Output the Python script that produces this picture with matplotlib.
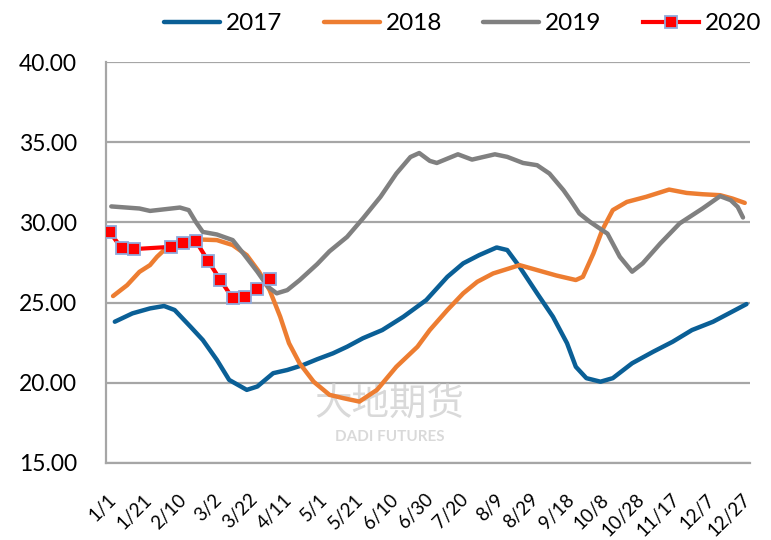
import matplotlib

matplotlib.use("Agg")
import matplotlib.pyplot as plt
import pandas as pd

plt.rcParams["font.family"] = ["Lato", "Noto Sans CJK SC", "DejaVu Sans"]

# day of year (0 = 1/1) and price for each year
DAYS_2017 = [4, 14, 24, 32, 38, 47, 54, 62, 69, 79, 85, 94, 102, 111, 119, 128, 136, 145,
             156, 168, 181, 193, 202, 211, 221, 227, 234, 244, 253, 261, 266, 272, 280,
             287, 298, 310, 321, 332, 344, 353, 363]
VALS_2017 = [23.81, 24.33, 24.64, 24.79, 24.54, 23.50, 22.67, 21.43, 20.18, 19.56, 19.77,
             20.60, 20.80, 21.11, 21.47, 21.84, 22.25, 22.78, 23.29, 24.12, 25.16, 26.61,
             27.45, 27.96, 28.44, 28.28, 27.24, 25.58, 24.12, 22.47, 21.00, 20.29, 20.07,
             20.29, 21.22, 21.94, 22.56, 23.29, 23.81, 24.33, 24.91]

DAYS_2018 = [3, 11, 18, 24, 28, 34, 43, 52, 62, 71, 79, 86, 92, 98, 103, 109, 117, 126,
             134, 143, 153, 164, 176, 183, 193, 202, 210, 219, 228, 234, 244, 255, 266,
             270, 276, 281, 287, 295, 306, 319, 329, 338, 348, 355, 362]
VALS_2018 = [25.41, 26.09, 26.92, 27.34, 27.86, 28.48, 28.85, 28.94, 28.90, 28.59, 27.96,
             26.92, 25.78, 24.12, 22.47, 21.22, 20.07, 19.25, 19.04, 18.83, 19.56, 21.00,
             22.25, 23.29, 24.54, 25.58, 26.30, 26.82, 27.13, 27.34, 27.03, 26.69, 26.41,
             26.61, 28.07, 29.52, 30.77, 31.28, 31.60, 32.05, 31.84, 31.76, 31.70, 31.49,
             31.22]

DAYS_2019 = [2, 18, 24, 41, 46, 50, 54, 62, 71, 77, 85, 91, 96, 102, 109, 119, 126, 136,
             145, 155, 164, 172, 177, 183, 187, 199, 207, 220, 227, 236, 244, 251, 259,
             263, 268, 274, 284, 291, 298, 304, 314, 325, 338, 348, 354, 358, 361]
VALS_2019 = [31.00, 30.87, 30.72, 30.93, 30.77, 30.04, 29.41, 29.25, 28.90, 28.07, 26.93,
             25.99, 25.58, 25.78, 26.40, 27.40, 28.20, 29.10, 30.25, 31.60, 33.05, 34.08,
             34.33, 33.84, 33.71, 34.25, 33.92, 34.25, 34.09, 33.71, 33.57, 33.05, 32.01,
             31.39, 30.56, 30.04, 29.30, 27.86, 26.93, 27.45, 28.69, 29.94, 30.87, 31.64,
             31.39, 30.97, 30.31]

DAYS_2020 = [1, 8, 15, 36, 43, 50, 57, 64, 71, 78, 85, 92]
VALS_2020 = [29.41, 28.38, 28.34, 28.48, 28.73, 28.85, 27.61, 26.41, 25.27, 25.37, 25.83,
             26.47]

TICK_DATES = pd.date_range("2019-01-01", periods=19, freq="20D")
TICK_DAYS = [d.dayofyear - 1 for d in TICK_DATES]
TICK_LABELS = [f"{d.month}/{d.day}" for d in TICK_DATES]
Y_TICKS = [15, 20, 25, 30, 35, 40]

GRID = "#a6a6a6"


def main() -> None:
    fig = plt.figure(figsize=(7.71, 5.40), dpi=100)
    ax = fig.add_axes([0.1375, 0.1426, 0.8353, 0.7424])

    ax.plot(DAYS_2017, VALS_2017, color="#0a5f96", linewidth=3.2, label="2017",
            solid_capstyle="round", zorder=3)
    ax.plot(DAYS_2018, VALS_2018, color="#ed7d31", linewidth=3.2, label="2018",
            solid_capstyle="round", zorder=3)
    ax.plot(DAYS_2019, VALS_2019, color="#808080", linewidth=3.2, label="2019",
            solid_capstyle="round", zorder=3)
    ax.plot(DAYS_2020, VALS_2020, color="#ff0000", linewidth=3.0, label="2020",
            marker="s", markersize=9, markerfacecolor="#ff0000",
            markeredgecolor="#8faadc", markeredgewidth=1.3, zorder=4)

    ax.set_xlim(-1, 365)
    ax.set_ylim(15, 40)
    ax.set_yticks(Y_TICKS)
    ax.set_yticklabels([f"{v:.2f}" for v in Y_TICKS], fontsize=16.5)
    ax.set_xticks(TICK_DAYS)
    ax.set_xticklabels(TICK_LABELS, fontsize=13.5, rotation=45, ha="right",
                       va="top", rotation_mode="anchor")
    ax.tick_params(axis="both", length=0)
    ax.tick_params(axis="x", pad=20)
    ax.tick_params(axis="y", pad=21)

    ax.grid(axis="y", color=GRID, linewidth=1.6)
    ax.set_axisbelow(True)
    for side in ("top", "right"):
        ax.spines[side].set_visible(False)
    for side in ("left", "bottom"):
        ax.spines[side].set_color(GRID)
        ax.spines[side].set_linewidth(1.6)

    # faint company watermark
    ax.text(0.44, 0.145, "大地期货", transform=ax.transAxes, fontsize=27,
            color="#d9d9d9", ha="center", va="center",
            family=["Noto Sans CJK SC", "DejaVu Sans"], zorder=1)
    ax.text(0.44, 0.065, "DADI FUTURES", transform=ax.transAxes, fontsize=11,
            color="#d9d9d9", ha="center", va="center", fontweight="bold", zorder=1)

    fig.legend(loc="upper right", bbox_to_anchor=(1.005, 1.0), ncol=4, frameon=False,
               fontsize=17.5, handlelength=2.3, handletextpad=0.25, columnspacing=1.7,
               borderaxespad=0.15)

    fig.savefig("out.png", dpi=100)
    plt.close(fig)


if __name__ == "__main__":
    main()
